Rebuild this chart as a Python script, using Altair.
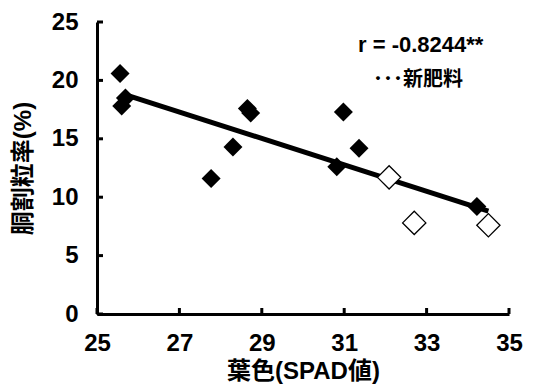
import altair as alt
import pandas as pd

# SPAD leaf-colour readings and cracked-grain rate (%)
conv_spad = [25.56, 25.60, 25.69, 27.77, 28.30, 28.65, 28.73, 30.82, 30.98, 31.36, 34.22]
conv_rate = [20.6, 17.8, 18.5, 11.6, 14.3, 17.6, 17.2, 12.6, 17.3, 14.2, 9.2]
new_spad = [32.09, 32.70, 34.50]
new_rate = [11.7, 7.8, 7.6]

x_ticks = [25, 27, 29, 31, 33, 35]
y_ticks = [0, 5, 10, 15, 20, 25]

FONT = "Liberation Sans, Noto Sans CJK JP"
CJK = "Noto Sans CJK JP"
W, H = 412, 292

df = pd.DataFrame({
    "spad": conv_spad + new_spad,
    "rate": conv_rate + new_rate,
    "group": ["従来"] * len(conv_spad) + ["新肥料"] * len(new_spad),
})

xs = alt.Scale(domain=[25, 35], nice=False)
ys = alt.Scale(domain=[0, 25], nice=False)

x_axis = alt.Axis(values=x_ticks, grid=False, ticks=False, tickSize=0,
                  domainWidth=3, domainColor="black",
                  labelFont=FONT, labelFontSize=24, labelFontWeight="bold",
                  labelColor="black", labelPadding=17, labelFlush=False,
                  title="葉色(SPAD値)", titleFont=FONT, titleFontSize=24,
                  titleFontWeight="bold", titleColor="black", titlePadding=4)
y_axis = alt.Axis(values=y_ticks, grid=False, ticks=False, tickSize=0,
                  domainWidth=3, domainColor="black",
                  labelFont=FONT, labelFontSize=24, labelFontWeight="bold",
                  labelColor="black", labelPadding=19, labelFlush=False,
                  title="胴割粒率(%)", titleFont=FONT, titleFontSize=24,
                  titleFontWeight="bold", titleColor="black", titlePadding=16)

base = alt.Chart(df)

filled = base.transform_filter(alt.datum.group == "従来").mark_point(
    shape="diamond", filled=True, color="black", size=360, opacity=1
).encode(x=alt.X("spad:Q", scale=xs, axis=x_axis),
         y=alt.Y("rate:Q", scale=ys, axis=y_axis))

hollow = base.transform_filter(alt.datum.group == "新肥料").mark_point(
    shape="diamond", filled=True, fill="white", stroke="black",
    strokeWidth=1.3, size=540, opacity=1
).encode(x=alt.X("spad:Q", scale=xs), y=alt.Y("rate:Q", scale=ys))

trend = base.transform_regression(
    "spad", "rate", extent=[25.7, 34.5]
).mark_line(color="black", strokeWidth=5).encode(
    x=alt.X("spad:Q", scale=xs), y=alt.Y("rate:Q", scale=ys))

# inward-pointing tick marks
xt = alt.Chart(pd.DataFrame({"v": x_ticks})).mark_rule(
    color="black", strokeWidth=3).encode(
    x=alt.X("v:Q", scale=xs), y=alt.value(H), y2=alt.value(H - 6))
yt = alt.Chart(pd.DataFrame({"v": y_ticks})).mark_rule(
    color="black", strokeWidth=3).encode(
    y=alt.Y("v:Q", scale=ys), x=alt.value(0), x2=alt.value(6))

r_text = alt.Chart(pd.DataFrame({"t": ["r = -0.8244**"]})).mark_text(
    font=FONT, fontSize=22, fontWeight="bold", align="left",
    baseline="middle", color="black").encode(
    text="t:N", x=alt.value(261), y=alt.value(23))
note = alt.Chart(pd.DataFrame({"t": ["･･･新肥料"]})).mark_text(
    font=CJK, fontSize=20, fontWeight="bold", align="left",
    baseline="middle", color="black").encode(
    text="t:N", x=alt.value(276), y=alt.value(58))

chart = alt.layer(trend, filled, hollow, xt, yt, r_text, note).properties(
    width=W, height=H,
    autosize=alt.AutoSizeParams(type="none"),
    padding={"left": 97, "top": 22, "right": 32, "bottom": 71},
    background="white",
).configure_view(stroke=None)

chart.save("out.html", embed_options={"renderer": "svg", "actions": False})
